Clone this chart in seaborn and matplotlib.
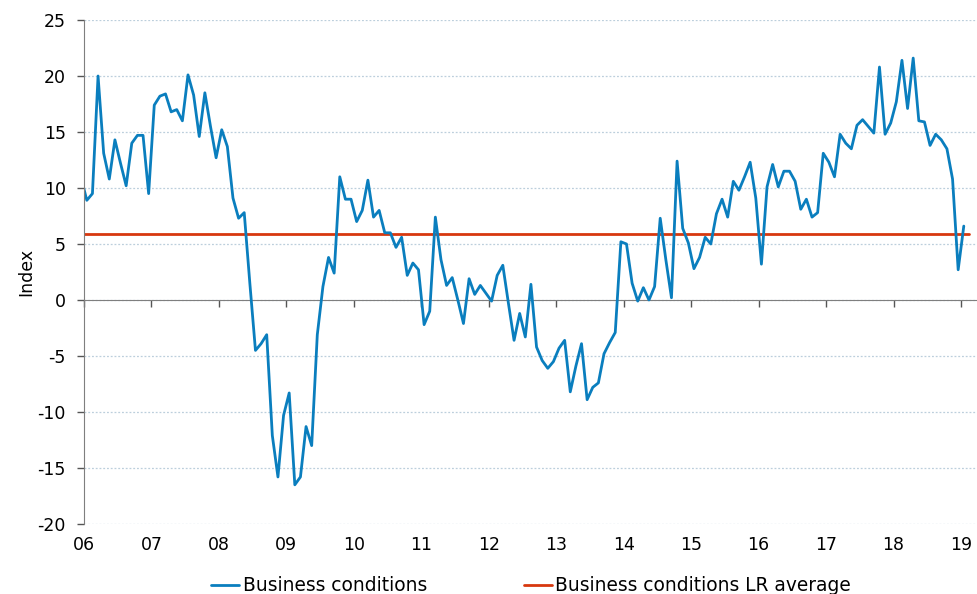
import matplotlib
matplotlib.use('Agg')
import matplotlib.pyplot as plt
import seaborn as sns
import pandas as pd

# monthly index, first point is Dec 2005 (clipped by the axis), last is Jan 2019
business_conditions = [
    10.9,
    8.9, 9.5, 20.0, 13.1, 10.8, 14.3, 12.2, 10.2, 14.0, 14.7, 14.7, 9.5,        # 2006
    17.4, 18.2, 18.4, 16.8, 17.0, 16.0, 20.1, 18.3, 14.6, 18.5, 15.5, 12.7,     # 2007
    15.2, 13.7, 9.1, 7.3, 7.8, 1.5, -4.5, -3.9, -3.1, -12.1, -15.8, -10.3,      # 2008
    -8.3, -16.5, -15.8, -11.3, -13.0, -3.1, 1.2, 3.8, 2.4, 11.0, 9.0, 9.0,      # 2009
    7.0, 8.0, 10.7, 7.4, 8.0, 6.0, 6.0, 4.7, 5.6, 2.2, 3.3, 2.7,                # 2010
    -2.2, -1.0, 7.4, 3.6, 1.3, 2.0, 0.0, -2.1, 1.9, 0.5, 1.3, 0.6,              # 2011
    -0.1, 2.2, 3.1, -0.3, -3.6, -1.2, -3.3, 1.4, -4.2, -5.4, -6.1, -5.5,        # 2012
    -4.3, -3.6, -8.2, -5.9, -3.9, -8.9, -7.8, -7.4, -4.8, -3.8, -2.9, 5.2,      # 2013
    5.0, 1.5, -0.1, 1.1, 0.0, 1.2, 7.3, 3.6, 0.2, 12.4, 6.4, 5.1,               # 2014
    2.8, 3.8, 5.6, 5.0, 7.7, 9.0, 7.4, 10.6, 9.8, 11.0, 12.3, 9.1,              # 2015
    3.2, 10.1, 12.1, 10.1, 11.5, 11.5, 10.6, 8.1, 9.0, 7.4, 7.8, 13.1,          # 2016
    12.3, 11.0, 14.8, 14.0, 13.5, 15.6, 16.1, 15.5, 14.9, 20.8, 14.8, 15.8,     # 2017
    17.7, 21.4, 17.1, 21.6, 16.0, 15.9, 13.8, 14.8, 14.3, 13.5, 10.8, 2.7,      # 2018
    6.6,                                                                        # 2019
]
lr_average = 5.9
year_labels = ['06', '07', '08', '09', '10', '11', '12', '13', '14', '15', '16', '17', '18', '19']

blue = '#0A7EBE'
red = '#D7380E'
grid_col = '#BCCFDC'

dates = pd.date_range('2005-12-01', periods=len(business_conditions), freq='MS')
df = pd.DataFrame({'date': dates, 'value': business_conditions})
df['x'] = df['date'].dt.year + (df['date'].dt.month - 0.5) / 12

lr_dates = pd.date_range('2005-12-01', periods=len(business_conditions) + 1, freq='MS')
lr = pd.DataFrame({'date': lr_dates, 'value': lr_average})
lr['x'] = lr['date'].dt.year + (lr['date'].dt.month - 0.5) / 12

sns.set_style('white')
plt.rcParams['font.family'] = ['DejaVu Sans']
plt.rcParams['axes.unicode_minus'] = False
plt.rcParams['text.color'] = 'black'
plt.rcParams['xtick.color'] = 'black'
plt.rcParams['ytick.color'] = 'black'
plt.rcParams['axes.labelcolor'] = 'black'
fs = 12.5

fig = plt.figure(figsize=(9.78, 5.94), dpi=100)
ax = fig.add_axes([84 / 978, 1 - 524 / 594, (978 - 84) / 978, (524 - 20) / 594])

sns.lineplot(data=lr, x='x', y='value', color=red, lw=2.0, ax=ax,
             label='Business conditions LR average', estimator=None)
sns.lineplot(data=df, x='x', y='value', color=blue, lw=2.0, ax=ax,
             label='Business conditions', estimator=None)

years = list(range(2006, 2020))
ax.set_xlim(2006, 2006 + 894 / 67.46)
ax.set_ylim(-20, 25)
ax.set_yticks(range(-20, 30, 5))
ax.yaxis.grid(True, color=grid_col, linestyle=(0, (1.5, 1.5)), lw=0.9)
ax.xaxis.grid(False)

for s in ['top', 'right']:
    ax.spines[s].set_visible(False)
ax.spines['left'].set_color('#7F7F7F')
ax.spines['bottom'].set_color('#7F7F7F')
ax.spines['bottom'].set_position(('data', 0))
ax.spines['bottom'].set_zorder(1)

ax.set_xticks(years)
ax.tick_params(axis='x', bottom=True, direction='out', length=5, width=1,
               color='#555555', labelbottom=False)
ax.tick_params(axis='y', left=True, direction='out', length=5, width=1,
               color='#555555', labelsize=fs, labelcolor='black', pad=8)
ax.set_xlabel('')
ax.set_ylabel('Index', fontsize=fs, labelpad=2)

# year labels sit under the plot area, not at the zero line
sec = ax.secondary_xaxis('bottom')
sec.set_xticks(years)
sec.set_xticklabels(year_labels)
sec.tick_params(length=0, labelsize=fs, labelcolor='black', pad=9)
sec.spines['bottom'].set_visible(False)

ax.get_legend().remove()
handles, labels = ax.get_legend_handles_labels()
fig.legend(handles[::-1], labels[::-1], loc='center', bbox_to_anchor=(0.543, 0.0135),
           ncol=2, frameon=False, fontsize=13.4, handlelength=1.5,
           handletextpad=0.2, columnspacing=5.2)

fig.savefig('out.png', dpi=100)
